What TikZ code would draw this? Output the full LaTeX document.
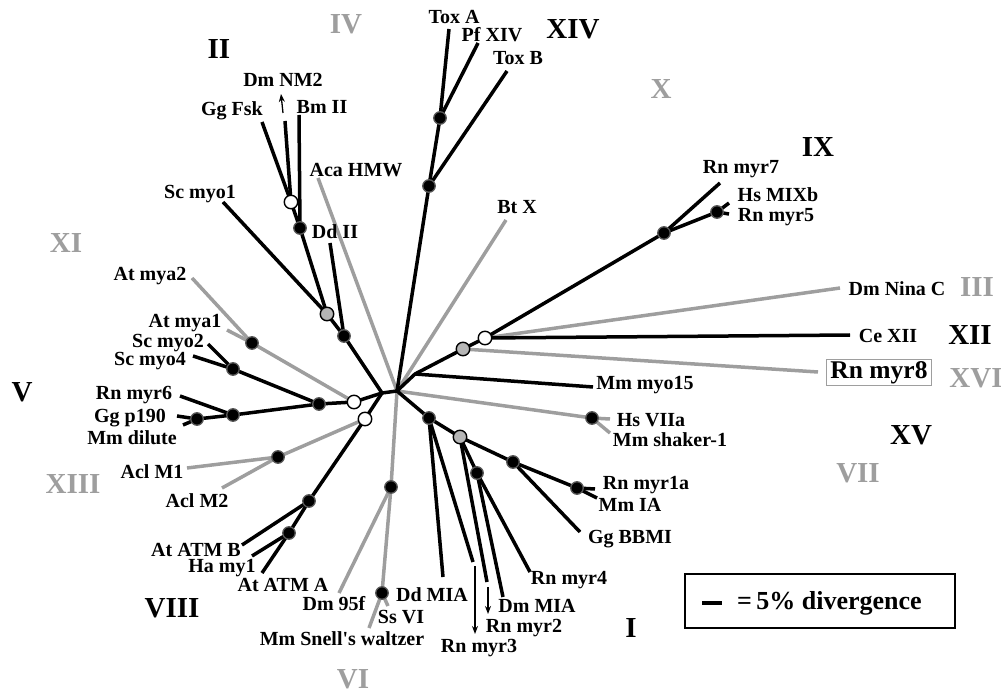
\documentclass[tikz,border=0pt]{standalone}
\usepackage{fontspec}
\setmainfont{Liberation Serif}
\usetikzlibrary{arrows.meta}
\definecolor{gr}{RGB}{158,158,158}
\begin{document}
\begin{tikzpicture}[x=1pt,y=-1pt,
  blk/.style={line width=3.5pt,black},
  gry/.style={line width=3.5pt,gr},
  dk/.style={circle,fill=black,draw=black!65,line width=1.3pt,minimum size=12.5pt,inner sep=0pt},
  wh/.style={circle,fill=white,draw=black,line width=1.4pt,minimum size=13.5pt,inner sep=0pt},
  gd/.style={circle,fill=gr!75,draw=black,line width=1.4pt,minimum size=13.5pt,inner sep=0pt},
  lab/.style={font=\fontsize{20}{20}\selectfont\bfseries,inner sep=0pt},
  rom/.style={font=\fontsize{29}{29}\selectfont\bfseries,inner sep=0pt},
  romg/.style={rom,text=gr},
  pointer/.style={line width=1.3pt,-{Stealth[length=8pt,width=6pt]}}
]
\useasboundingbox (0,0) rectangle (1001,692);
% ---------- coordinates ----------
\coordinate (C1) at (397,391);
\coordinate (C2) at (382,393);
% XIV
\coordinate (n14a) at (429,186); \coordinate (n14b) at (440,118);
\coordinate (tToxA) at (449,29); \coordinate (tPf) at (478,43); \coordinate (tToxB) at (507,71);
\coordinate (tBtX) at (506,220); \coordinate (tAca) at (318,178);
% IX / III / XII / XVI
\coordinate (jM15) at (415,374); \coordinate (ngIX) at (463,349); \coordinate (nwIX) at (485,338);
\coordinate (nIX) at (664,233); \coordinate (nIXb) at (717,212);
\coordinate (tMyr7) at (720,183); \coordinate (tMIXb) at (729,203); \coordinate (tMyr5) at (729,214);
\coordinate (tNina) at (840,288); \coordinate (tCe) at (850,335); \coordinate (tMyr8) at (818,372);
\coordinate (tM15) at (593,387);
% VII
\coordinate (n7) at (592,418); \coordinate (tVIIa) at (610,419); \coordinate (tShaker) at (610,433);
% I
\coordinate (n1a) at (429,418); \coordinate (tDdMIA) at (443,577); \coordinate (tR3) at (473,562);
\coordinate (ng1) at (460,437); \coordinate (tR2) at (487,582);
\coordinate (n1b) at (477,473); \coordinate (tDmMIA) at (503,597); \coordinate (tR4) at (530,572);
\coordinate (n1c) at (513,462); \coordinate (tBBMI) at (580,532);
\coordinate (n1d) at (577,488); \coordinate (tR1a) at (595,489); \coordinate (tMmIA) at (597,498);
\coordinate (a3s) at (475,566); \coordinate (a3e) at (475,634);
\coordinate (a2s) at (488,587); \coordinate (a2e) at (488,614);
% VI
\coordinate (n6a) at (391,487); \coordinate (tDm95f) at (339,593); \coordinate (n6b) at (382,593);
\coordinate (tSsVI) at (388,606); \coordinate (tSnell) at (369,628);
% II
\coordinate (n2a) at (344,336); \coordinate (tDdII) at (330,243); \coordinate (ng2) at (327,314);
\coordinate (tScMyo1) at (223,202); \coordinate (n2b) at (300,228); \coordinate (nw2) at (291,202);
\coordinate (tGgFsk) at (262,122); \coordinate (tDmNM2) at (285,121); \coordinate (tBmII) at (299,115);
\coordinate (a1s) at (283,113); \coordinate (a1e) at (281,94);
% V / XI
\coordinate (nw5) at (354,402); \coordinate (n5at) at (252,343);
\coordinate (tMya2) at (192,278); \coordinate (tMya1) at (227,330);
\coordinate (n5a) at (319,404); \coordinate (n5sc) at (233,369);
\coordinate (tScMyo2) at (208,344); \coordinate (tScMyo4) at (193,356);
\coordinate (n5b) at (233,415); \coordinate (tMyr6) at (180,396);
\coordinate (n5c) at (197,419); \coordinate (tP190) at (177,416); \coordinate (tDilute) at (183,425);
% XIII / VIII
\coordinate (nw8) at (365,419); \coordinate (n13) at (278,457);
\coordinate (tAclM1) at (187,468); \coordinate (tAclM2) at (222,488);
\coordinate (n8a) at (309,501); \coordinate (tATMB) at (242,545);
\coordinate (n8b) at (289,533); \coordinate (tHa) at (252,556); \coordinate (tATMA) at (262,573);

% ---------- gray branches ----------
\draw[gry] (C1) -- (tAca);
\draw[gry] (C1) -- (tBtX);
\draw[gry] (C1) -- (n7) -- (tVIIa);
\draw[gry] (n7) -- (tShaker);
\draw[gry] (C1) -- (n6a) -- (tDm95f);
\draw[gry] (n6a) -- (n6b) -- (tSnell);
\draw[gry] (n6b) -- (tSsVI);
\draw[gry] (ngIX) -- (tMyr8);
\draw[gry] (nwIX) -- (tNina);
\draw[gry] (nw5) -- (n5at) -- (tMya2);
\draw[gry] (n5at) -- (tMya1);
\draw[gry] (nw8) -- (n13) -- (tAclM1);
\draw[gry] (n13) -- (tAclM2);
% ---------- black branches ----------
\draw[blk] (C2) -- (C1);
\draw[blk] (C1) -- (n14a) -- (n14b) -- (tToxA);
\draw[blk] (n14b) -- (tPf);
\draw[blk] (n14a) -- (tToxB);
\draw[blk] (C1) -- (jM15) -- (ngIX) -- (nwIX) -- (nIX) -- (tMyr7);
\draw[blk] (nIX) -- (nIXb) -- (tMIXb);
\draw[blk] (nIXb) -- (tMyr5);
\draw[blk] (nwIX) -- (tCe);
\draw[blk] (jM15) -- (tM15);
\draw[blk] (C1) -- (n1a) -- (ng1) -- (n1c) -- (n1d) -- (tR1a);
\draw[blk] (n1d) -- (tMmIA);
\draw[blk] (n1c) -- (tBBMI);
\draw[blk] (n1a) -- (tDdMIA);
\draw[blk] (n1a) -- (tR3);
\draw[blk] (ng1) -- (tR2);
\draw[blk] (ng1) -- (n1b) -- (tDmMIA);
\draw[blk] (n1b) -- (tR4);
\draw[blk] (C2) -- (n2a) -- (ng2) -- (n2b) -- (nw2) -- (tGgFsk);
\draw[blk] (nw2) -- (tDmNM2);
\draw[blk] (n2b) -- (tBmII);
\draw[blk] (ng2) -- (tScMyo1);
\draw[blk] (n2a) -- (tDdII);
\draw[blk] (C2) -- (nw5) -- (n5a) -- (n5sc) -- (tScMyo4);
\draw[blk] (n5sc) -- (tScMyo2);
\draw[blk] (n5a) -- (n5b) -- (tMyr6);
\draw[blk] (n5b) -- (n5c) -- (tP190);
\draw[blk] (n5c) -- (tDilute);
\draw[blk] (C2) -- (nw8) -- (n8a) -- (tATMB);
\draw[blk] (n8a) -- (n8b) -- (tHa);
\draw[blk] (n8b) -- (tATMA);
% thin arrows
\draw[pointer] (a3s) -- (a3e);
\draw[pointer] (a2s) -- (a2e);
\draw[pointer] (a1s) -- (a1e);

% ---------- node markers ----------
\foreach \p in {n14a,n14b,nIX,nIXb,n7,n1a,n1b,n1c,n1d,n6a,n6b,n2a,n2b,n5at,n5a,n5sc,n5b,n5c,n13,n8a,n8b}
  \node[dk] at (\p) {};
\foreach \p in {nwIX,nw2,nw5,nw8}
  \node[wh] at (\p) {};
\foreach \p in {ngIX,ng1,ng2}
  \node[gd] at (\p) {};

% ---------- tip labels ----------
\node[lab] (LToxA) at (454,17) {Tox A};
\node[lab] (LPf) at (492,35) {Pf XIV};
\node[lab] (LToxB) at (518,58) {Tox B};
\node[lab] (LBtX) at (517,207) {Bt X};
\node[lab] (LAca) at (356,170) {Aca HMW};
\node[lab] (LMyr7) at (741,169) {Rn myr7};
\node[lab] (LMIXb) at (778,195) {Hs MIXb};
\node[lab] (LMyr5) at (776,217) {Rn myr5};
\node[lab] (LNina) at (897,289) {Dm Nina C};
\node[lab] (LCe) at (888,336) {Ce XII};
\node[font=\fontsize{25.5}{25.5}\selectfont\bfseries,draw=gr,line width=1.2pt,inner xsep=4pt,inner ysep=2pt,minimum height=23pt] (LMyr8) at (879,372.5) {Rn myr8};
\node[lab] (LM15) at (645,385) {Mm myo15};
\node[lab] (LVIIa) at (651,420) {Hs VIIa};
\node[lab] (LShaker) at (670,440) {Mm shaker-1};
\node[lab] (LR1a) at (646,485) {Rn myr1a};
\node[lab] (LMmIA) at (630,505) {Mm IA};
\node[lab] (LBBMI) at (630,539) {Gg BBMI};
\node[lab] (LR4) at (569,580) {Rn myr4};
\node[lab] (LDmMIA) at (537,606) {Dm MIA};
\node[lab] (LR2) at (524,628) {Rn myr2};
\node[lab] (LR3) at (479,648) {Rn myr3};
\node[lab] (LDdMIA) at (432,595) {Dd MIA};
\node[lab] (LSsVI) at (401,617) {Ss VI};
\node[lab] (LSnell) at (342,639) {Mm Snell\textquotesingle s waltzer};
\node[lab] (LDm95f) at (334,604) {Dm 95f};
\node[lab] (LATMA) at (283,585) {At ATM A};
\node[lab] (LHa) at (222,568) {Ha my1};
\node[lab] (LATMB) at (196,550) {At ATM B};
\node[lab] (LAclM2) at (197,501) {Acl M2};
\node[lab] (LAclM1) at (152,472) {Acl M1};
\node[lab] (LDilute) at (132,438) {Mm dilute};
\node[lab] (LP190) at (130,418) {Gg p190};
\node[lab] (LMyr6) at (134,395) {Rn myr6};
\node[lab] (LScMyo4) at (150,361) {Sc myo4};
\node[lab] (LScMyo2) at (168,343) {Sc myo2};
\node[lab] (LMya1) at (185,323) {At mya1};
\node[lab] (LMya2) at (150,276) {At mya2};
\node[lab] (LScMyo1) at (200,194) {Sc myo1};
\node[lab] (LDdII) at (335,232) {Dd II};
\node[lab] (LGgFsk) at (232,111) {Gg Fsk};
\node[lab] (LBmII) at (322,107) {Bm II};
\node[lab] (LDmNM2) at (283,80) {Dm NM2};

% ---------- class numerals ----------
\node[rom]  (RII)   at (219,49)  {II};
\node[romg] (RIV)   at (346,24)  {IV};
\node[rom]  (RXIV)  at (573,29)  {XIV};
\node[romg] (RX)    at (661,89)  {X};
\node[rom]  (RIX)   at (818,147) {IX};
\node[romg] (RIII)  at (977,287) {III};
\node[rom]  (RXII)  at (970,335) {XII};
\node[romg] (RXVI)  at (976,378) {XVI};
\node[rom]  (RXV)   at (911,435) {XV};
\node[romg] (RVII)  at (858,473) {VII};
\node[rom]  (RI)    at (631,628) {I};
\node[romg] (RVI)   at (353,679) {VI};
\node[rom]  (RVIII) at (172,608) {VIII};
\node[romg] (RXIII) at (73,484)  {XIII};
\node[rom]  (RV)    at (22,392)  {V};
\node[romg] (RXI)   at (66,243)  {XI};

% ---------- legend ----------
\node[draw=black,line width=2.4pt,minimum width=270pt,minimum height=54pt,inner sep=0pt] (legend) at (820,601) {};
\coordinate (sb1) at (702,603); \coordinate (sb2) at (722,603);
\draw[line width=3.6pt] (sb1) -- (sb2);
\node[font=\fontsize{26}{26}\selectfont\bfseries,anchor=west,inner sep=0pt] (legtext) at (737,603) {=\,5\% divergence};
\end{tikzpicture}
\end{document}
